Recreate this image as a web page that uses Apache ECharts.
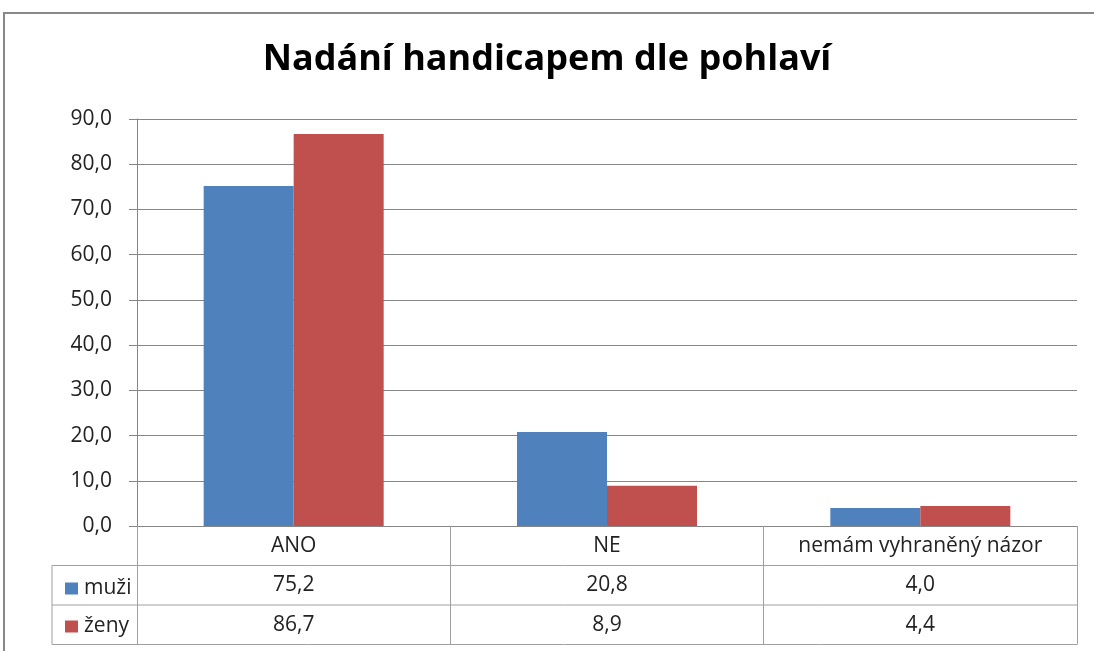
<!DOCTYPE html>
<html>
<head>
<meta charset="utf-8">
<script src="https://cdn.jsdelivr.net/npm/echarts@6/dist/echarts.min.js"></script>
<style>
  html, body { margin: 0; padding: 0; background: #fff; }
  #main { width: 1094px; height: 651px; }
</style>
</head>
<body>
<div id="main"></div>
<script>
var categories = ['ANO', 'NE', 'nemám vyhraněný názor']
var seriesNames = ['muži', 'ženy']
var muzi = [75.2, 20.8, 4.0]
var zeny = [86.7, 8.9, 4.4]
var yTicks = { min: 0, max: 90, interval: 10 }

var font = 'Open Sans'
var gridLeft = 137
var gridRight = 1077
var gridTop = 119
var gridBottom = 526
var rowH = 39.5
var tableLeft = 52
var lineColor = '#868686'

function fmt (v) {
  return v.toFixed(1).replace('.', ',')
}

var myChart = echarts.init(document.getElementById('main'))

var option = {
  animation: false,
  color: ['#4F81BD', '#C0504D'],
  title: {
    text: 'Nadání handicapem dle pohlaví',
    left: 'center',
    top: 37,
    textStyle: {
      fontFamily: font,
      fontSize: 36,
      fontWeight: 'bold',
      color: '#000'
    }
  },
  legend: {
    orient: 'vertical',
    left: 60,
    top: 573,
    itemWidth: 13,
    itemHeight: 12,
    itemGap: 17,
    icon: 'rect',
    data: seriesNames,
    textStyle: {
      fontFamily: font,
      fontSize: 21,
      color: '#222',
      padding: [0, 0, 0, 1]
    }
  },
  grid: {
    left: gridLeft,
    right: 1094 - gridRight,
    top: gridTop,
    bottom: 651 - gridBottom
  },
  xAxis: {
    type: 'category',
    data: categories,
    axisLine: { show: true, lineStyle: { color: lineColor } },
    axisTick: {
      show: true,
      interval: 0,
      length: rowH * 3,
      lineStyle: { color: '#a0a0a0' }
    },
    axisLabel: {
      interval: 0,
      margin: 0,
      formatter: function (value, idx) {
        return '{h|' + value + '}\n{v|' + fmt(muzi[idx]) + '}\n{v|' + fmt(zeny[idx]) + '}'
      },
      rich: {
        h: { fontFamily: font, fontSize: 21, color: '#222', lineHeight: rowH, height: rowH },
        v: { fontFamily: font, fontSize: 21, color: '#222', lineHeight: rowH, height: rowH }
      }
    }
  },
  yAxis: {
    type: 'value',
    min: yTicks.min,
    max: yTicks.max,
    interval: yTicks.interval,
    axisLine: { show: true, lineStyle: { color: lineColor } },
    axisTick: { show: true, length: 8, lineStyle: { color: lineColor } },
    axisLabel: {
      margin: 25,
      fontFamily: font,
      fontSize: 21,
      color: '#222',
      formatter: function (v) { return fmt(v) }
    },
    splitLine: { lineStyle: { color: lineColor } }
  },
  series: [
    {
      name: seriesNames[0],
      type: 'bar',
      barWidth: 90,
      barGap: '0%',
      data: muzi
    },
    {
      name: seriesNames[1],
      type: 'bar',
      barWidth: 90,
      barGap: '0%',
      data: zeny
    }
  ],
  graphic: [
    {
      type: 'rect',
      shape: { x: 4, y: 13, width: 1200, height: 800 },
      style: { fill: 'none', stroke: '#888', lineWidth: 2 },
      silent: true
    },
    {
      type: 'line',
      shape: { x1: tableLeft, y1: gridBottom + rowH, x2: gridRight, y2: gridBottom + rowH },
      style: { stroke: '#a0a0a0', lineWidth: 1 }
    },
    {
      type: 'line',
      shape: { x1: tableLeft, y1: gridBottom + rowH * 2, x2: gridRight, y2: gridBottom + rowH * 2 },
      style: { stroke: '#a0a0a0', lineWidth: 1 }
    },
    {
      type: 'line',
      shape: { x1: tableLeft, y1: gridBottom + rowH * 3, x2: gridRight, y2: gridBottom + rowH * 3 },
      style: { stroke: '#a0a0a0', lineWidth: 1 }
    },
    {
      type: 'line',
      shape: { x1: tableLeft, y1: gridBottom + rowH, x2: tableLeft, y2: gridBottom + rowH * 3 },
      style: { stroke: '#a0a0a0', lineWidth: 1 }
    }
  ]
}

myChart.setOption(option)
</script>
</body>
</html>
